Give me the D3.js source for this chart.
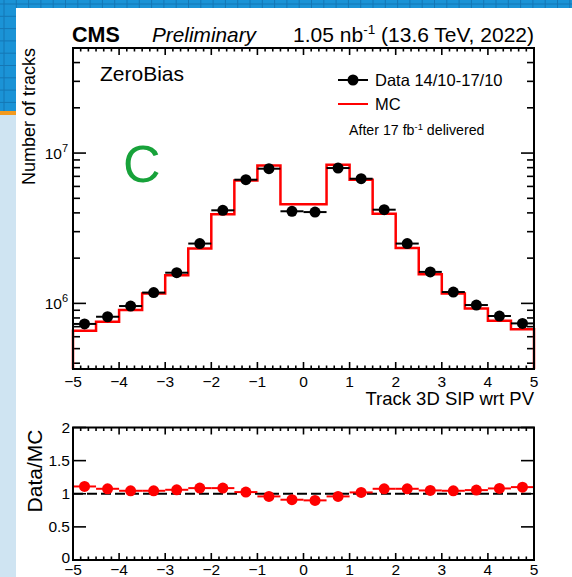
<!DOCTYPE html>
<html>
<head>
<meta charset="utf-8">
<script src="https://cdn.jsdelivr.net/npm/d3@7"></script>
<style>
  body { margin: 0; background: #fff; }
  text { font-family: "Liberation Sans", Arial, sans-serif; fill: #000; }
</style>
</head>
<body>
<div id="chart"></div>
<script>
// bins of the track 3D SIP histogram (lower edges, width 0.5)
const binLow = [-5, -4.5, -4, -3.5, -3, -2.5, -2, -1.5, -1, -0.5, 0, 0.5, 1, 1.5, 2, 2.5, 3, 3.5, 4, 4.5];
const binWidth = 0.5;

const dataCounts = [7.3e5, 8.15e5, 9.6e5, 1.18e6, 1.6e6, 2.5e6, 4.16e6, 6.65e6, 7.87e6, 4.1e6,
                    4.05e6, 7.95e6, 6.75e6, 4.2e6, 2.5e6, 1.62e6, 1.19e6, 9.75e5, 8.24e5, 7.36e5];
const mcCounts = [6.58e5, 7.55e5, 9.03e5, 1.165e6, 1.54e6, 2.32e6, 3.92e6, 6.58e6, 8.28e6, 4.56e6,
                  4.56e6, 8.36e6, 6.65e6, 3.95e6, 2.34e6, 1.56e6, 1.165e6, 9.26e5, 7.67e5, 6.72e5];
const ratio = [1.11, 1.075, 1.045, 1.045, 1.06, 1.085, 1.085, 1.025, 0.96, 0.91,
               0.90, 0.96, 1.02, 1.075, 1.075, 1.05, 1.045, 1.055, 1.08, 1.10];

const xTicks = [-5, -4, -3, -2, -1, 0, 1, 2, 3, 4, 5];
const yTopTicks = [1e6, 1e7];
const yRatioTicks = [0, 0.5, 1, 1.5, 2];

const width = 572, height = 577;
const frame = { left: 73, right: 534 };
const topP = { y0: 48, y1: 369 };
const botP = { y0: 427.5, y1: 560 };

const svg = d3.select('#chart').append('svg')
  .attr('width', width)
  .attr('height', height);

// screenshot background bits (blue grid strip, left panel)
const bg = svg.append('g');
bg.append('rect').attr('x', 0).attr('y', 0).attr('width', width).attr('height', 8).attr('fill', '#1b93d6');
bg.append('rect').attr('x', 0).attr('y', 0).attr('width', 16).attr('height', 111).attr('fill', '#1b93d6');
bg.append('rect').attr('x', 0).attr('y', 111).attr('width', 16).attr('height', 4).attr('fill', '#f39a1e');
bg.append('rect').attr('x', 0).attr('y', 115).attr('width', 16).attr('height', height - 115).attr('fill', '#cfe4f2');
for (let gx = 4; gx < width; gx += 12.3) {
  bg.append('line').attr('x1', gx).attr('x2', gx).attr('y1', 0).attr('y2', gx < 16 ? 111 : 8)
    .attr('stroke', '#1577b5').attr('stroke-width', 1);
}
for (let gy = 4; gy < 111; gy += 12.3) {
  bg.append('line').attr('x1', 0).attr('x2', gy < 8 ? width : 16).attr('y1', gy).attr('y2', gy)
    .attr('stroke', '#1577b5').attr('stroke-width', 1);
}

const x = d3.scaleLinear().domain([-5, 5]).range([frame.left, frame.right]);
const y = d3.scaleLog().domain([3.66e5, 5e7]).range([topP.y1, topP.y0]);
const yr = d3.scaleLinear().domain([0, 2]).range([botP.y1, botP.y0]);

const xMinor = d3.range(0, 61).map(i => -5 + i / 6);

function xTicksFor(y0, y1) {
  const g = svg.append('g');
  xMinor.forEach(v => {
    const major = xTicks.some(t => Math.abs(t - v) < 1e-6);
    const len = major ? 7 : 3.5;
    g.append('line').attr('x1', x(v)).attr('x2', x(v)).attr('y1', y1).attr('y2', y1 - len)
      .attr('stroke', '#000').attr('stroke-width', 1.6);
    g.append('line').attr('x1', x(v)).attr('x2', x(v)).attr('y1', y0).attr('y2', y0 + len)
      .attr('stroke', '#000').attr('stroke-width', 1.6);
  });
}

// ----- top panel -----
xTicksFor(topP.y0, topP.y1);

const logMinor = [];
[5, 6, 7].forEach(e => d3.range(1, 10).forEach(m => {
  const v = m * Math.pow(10, e);
  if (v >= 3.66e5 && v <= 5e7) logMinor.push(v);
}));
logMinor.forEach(v => {
  const major = yTopTicks.includes(v);
  const len = major ? 13 : 7;
  svg.append('line').attr('x1', frame.left).attr('x2', frame.left + len).attr('y1', y(v)).attr('y2', y(v))
    .attr('stroke', '#000').attr('stroke-width', 1.6);
  svg.append('line').attr('x1', frame.right).attr('x2', frame.right - len).attr('y1', y(v)).attr('y2', y(v))
    .attr('stroke', '#000').attr('stroke-width', 1.6);
});
yTopTicks.forEach(v => {
  svg.append('text').attr('x', 62).attr('y', y(v) + 6).attr('text-anchor', 'end')
    .attr('font-size', 15.5).text('10');
  svg.append('text').attr('x', 62).attr('y', y(v) - 1).attr('font-size', 11)
    .text(Math.round(Math.log10(v)));
});

// MC histogram
const mcPts = [[x(binLow[0]), topP.y1]];
binLow.forEach((b, i) => {
  mcPts.push([x(b), y(mcCounts[i])]);
  mcPts.push([x(b + binWidth), y(mcCounts[i])]);
});
mcPts.push([x(binLow[binLow.length - 1] + binWidth), topP.y1]);
svg.append('path')
  .attr('d', d3.line()(mcPts))
  .attr('fill', 'none')
  .attr('stroke', '#ff0000')
  .attr('stroke-width', 2.5);

// data points
const dataG = svg.append('g');
binLow.forEach((b, i) => {
  dataG.append('line').attr('x1', x(b)).attr('x2', x(b + binWidth))
    .attr('y1', y(dataCounts[i])).attr('y2', y(dataCounts[i]))
    .attr('stroke', '#000').attr('stroke-width', 2);
  dataG.append('circle').attr('cx', x(b + binWidth / 2)).attr('cy', y(dataCounts[i]))
    .attr('r', 5.5).attr('fill', '#000');
});

svg.append('rect').attr('x', frame.left).attr('y', topP.y0)
  .attr('width', frame.right - frame.left).attr('height', topP.y1 - topP.y0)
  .attr('fill', 'none').attr('stroke', '#000').attr('stroke-width', 2);

xTicks.forEach(v => {
  svg.append('text').attr('x', x(v)).attr('y', 387).attr('text-anchor', 'middle')
    .attr('font-size', 15.5).text(d3.format('d')(v));
});

svg.append('text').attr('x', frame.right).attr('y', 405).attr('text-anchor', 'end')
  .attr('font-size', 18.5).text('Track 3D SIP wrt PV');

svg.append('text').attr('transform', 'translate(35,48) rotate(-90)')
  .attr('text-anchor', 'end').attr('font-size', 18).text('Number of tracks');

// header
svg.append('text').attr('x', 72).attr('y', 42).attr('font-size', 21.5).attr('font-weight', 'bold').text('CMS');
svg.append('text').attr('x', 152).attr('y', 42).attr('font-size', 20.8).attr('font-style', 'italic').text('Preliminary');
const lumi = svg.append('text').attr('x', frame.right).attr('y', 42).attr('text-anchor', 'end').attr('font-size', 21);
lumi.append('tspan').text('1.05 nb');
lumi.append('tspan').attr('dy', -8).attr('font-size', 13.5).text('-1');
lumi.append('tspan').attr('dy', 8).text(' (13.6 TeV, 2022)');

svg.append('text').attr('x', 100).attr('y', 81).attr('font-size', 21).text('ZeroBias');

// legend
svg.append('line').attr('x1', 338).attr('x2', 368).attr('y1', 80).attr('y2', 80)
  .attr('stroke', '#000').attr('stroke-width', 2);
svg.append('circle').attr('cx', 353).attr('cy', 80).attr('r', 5.5).attr('fill', '#000');
svg.append('text').attr('x', 375).attr('y', 86).attr('font-size', 16.5).text('Data 14/10-17/10');
svg.append('line').attr('x1', 338).attr('x2', 368).attr('y1', 104).attr('y2', 104)
  .attr('stroke', '#ff0000').attr('stroke-width', 2);
svg.append('text').attr('x', 375).attr('y', 110).attr('font-size', 16.5).text('MC');
const after = svg.append('text').attr('x', 349).attr('y', 135).attr('font-size', 14.2);
after.append('tspan').text('After 17 fb');
after.append('tspan').attr('dy', -5).attr('font-size', 9.5).text('-1');
after.append('tspan').attr('dy', 5).text(' delivered');

// green annotation
svg.append('text').attr('x', 123).attr('y', 182).attr('font-size', 52)
  .attr('font-family', 'Lato, "Open Sans", sans-serif').attr('font-weight', 300)
  .style('fill', '#17a23a').text('C');

// ----- ratio panel -----
xTicksFor(botP.y0, botP.y1);
yRatioTicks.forEach(v => {
  svg.append('line').attr('x1', frame.left).attr('x2', frame.left + 13).attr('y1', yr(v)).attr('y2', yr(v))
    .attr('stroke', '#000').attr('stroke-width', 1.6);
  svg.append('line').attr('x1', frame.right).attr('x2', frame.right - 13).attr('y1', yr(v)).attr('y2', yr(v))
    .attr('stroke', '#000').attr('stroke-width', 1.6);
  svg.append('text').attr('x', 70).attr('y', yr(v) + (v === 0 ? 3 : 5)).attr('text-anchor', 'end')
    .attr('font-size', 15.5).text(v);
});

svg.append('line').attr('x1', frame.left).attr('x2', frame.right).attr('y1', yr(1)).attr('y2', yr(1))
  .attr('stroke', '#000').attr('stroke-width', 2).attr('stroke-dasharray', '10,4');

const ratioG = svg.append('g');
binLow.forEach((b, i) => {
  ratioG.append('line').attr('x1', x(b)).attr('x2', x(b + binWidth))
    .attr('y1', yr(ratio[i])).attr('y2', yr(ratio[i]))
    .attr('stroke', '#ff0000').attr('stroke-width', 2);
  ratioG.append('circle').attr('cx', x(b + binWidth / 2)).attr('cy', yr(ratio[i]))
    .attr('r', 5.5).attr('fill', '#ff0000');
});

svg.append('rect').attr('x', frame.left).attr('y', botP.y0)
  .attr('width', frame.right - frame.left).attr('height', botP.y1 - botP.y0)
  .attr('fill', 'none').attr('stroke', '#000').attr('stroke-width', 2);

xTicks.forEach(v => {
  svg.append('text').attr('x', x(v)).attr('y', 575).attr('text-anchor', 'middle')
    .attr('font-size', 15.5).text(d3.format('d')(v));
});

svg.append('text').attr('transform', 'translate(42,471) rotate(-90)')
  .attr('text-anchor', 'middle').attr('font-size', 21).text('Data/MC');
</script>
</body>
</html>
